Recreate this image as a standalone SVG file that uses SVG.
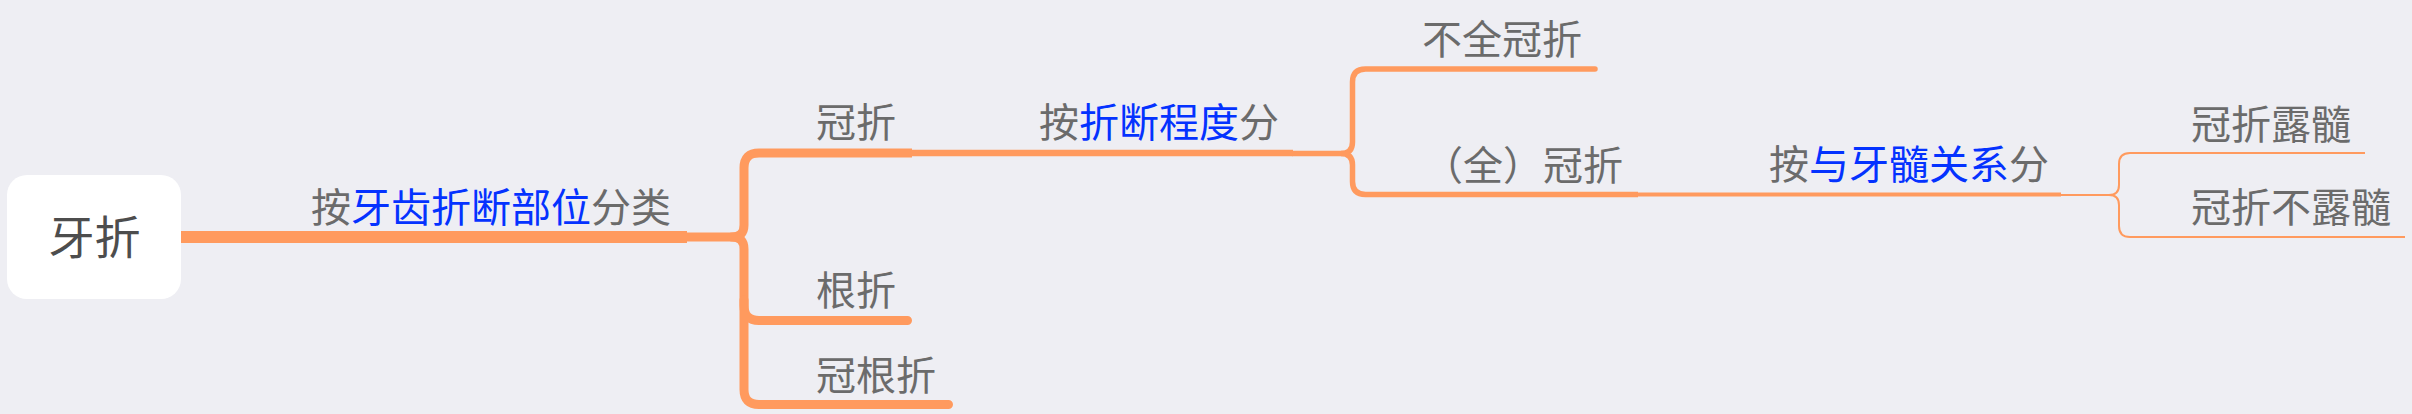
<svg xmlns="http://www.w3.org/2000/svg" width="2412" height="414" viewBox="0 0 2412 414">
<style>
.t{font-family:"Noto Sans CJK SC","Noto Sans",sans-serif;font-size:40px;fill:#6b6b6b}
.b{fill:#0432FF}
.root{font-family:"Noto Sans CJK SC","Noto Sans",sans-serif;font-size:46px;fill:#4d4d4d}
.c{fill:none;stroke:#FF9A5E;stroke-linejoin:round}
</style>
<rect width="2412" height="414" fill="#EEEEF3"/>
<g id="connectors">
<path class="c" d="M181 237 H687" stroke-width="12"/>
<path class="c" d="M687 237 H732 Q744 237 744 225 V168 Q744 153 759 153 H912" stroke-width="9"/>
<path class="c" d="M732 237 Q744 237 744 249 V305.5 Q744 320.5 759 320.5 H907.5" stroke-width="9" stroke-linecap="round"/>
<path class="c" d="M744 300 V389.5 Q744 404.5 759 404.5 H948.5" stroke-width="9" stroke-linecap="round"/>
<path class="c" d="M912 153 H1293" stroke-width="6.5"/>
<path class="c" d="M1293 153.5 H1341 Q1352.5 153.5 1352.5 142 V82 Q1352.5 69 1365.5 69 H1595" stroke-width="5.5" stroke-linecap="round"/>
<path class="c" d="M1341 153.5 Q1352.5 153.5 1352.5 165 V181.5 Q1352.5 194.5 1365.5 194.5 H1638" stroke-width="5.5"/>
<path class="c" d="M1638 194.5 H2061" stroke-width="4"/>
<path class="c" d="M2061 195 H2109 Q2119 195 2119 185 V164 Q2119 153 2130 153 H2365" stroke-width="2"/>
<path class="c" d="M2109 195 Q2119 195 2119 205 V226 Q2119 237 2130 237 H2405" stroke-width="2"/>
</g>
<g id="root">
<rect x="7" y="175" width="174" height="124" rx="20" fill="#FFFFFF"/>
<text class="root" x="94.5" y="254" text-anchor="middle">牙折</text>
</g>
<g id="n-bywei"><text class="t" x="311" y="222">按<tspan class="b">牙齿折断部位</tspan>分类</text></g>
<g id="n-guanzhe"><text class="t" x="816" y="137">冠折</text></g>
<g id="n-genzhe"><text class="t" x="816" y="305">根折</text></g>
<g id="n-guangenzhe"><text class="t" x="816" y="390">冠根折</text></g>
<g id="n-bychengdu"><text class="t" x="1039" y="137">按<tspan class="b">折断程度</tspan>分</text></g>
<g id="n-buquan"><text class="t" x="1422" y="54">不全冠折</text></g>
<g id="n-quan"><text class="t" x="1423" y="180">（全）冠折</text></g>
<g id="n-bysuigui"><text class="t" x="1769" y="179">按<tspan class="b">与牙髓关系</tspan>分</text></g>
<g id="n-lusui"><text class="t" x="2191" y="139">冠折露髓</text></g>
<g id="n-bulusui"><text class="t" x="2191" y="222">冠折不露髓</text></g>
</svg>
